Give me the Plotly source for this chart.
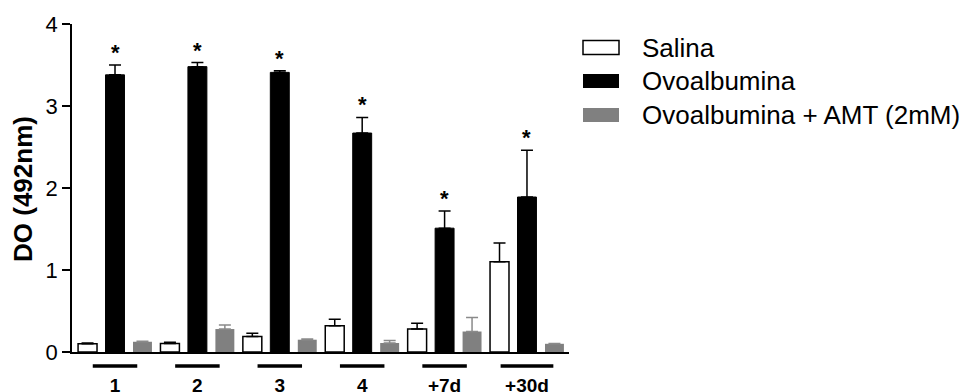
import plotly.graph_objects as go

categories = ["1", "2", "3", "4", "+7d", "+30d"]
salina = [0.10, 0.105, 0.19, 0.32, 0.28, 1.10]
salina_err = [0.11, 0.12, 0.23, 0.40, 0.35, 1.33]
ova = [3.38, 3.48, 3.41, 2.67, 1.51, 1.89]
ova_err = [3.50, 3.53, 3.43, 2.86, 1.72, 2.46]
amt = [0.125, 0.28, 0.15, 0.11, 0.25, 0.10]
amt_err = [0.13, 0.33, 0.16, 0.14, 0.42, 0.105]
series_names = ["Salina", "Ovoalbumina", "Ovoalbumina + AMT (2mM)"]

FONT = "Arial, Liberation Sans, sans-serif"
W, H = 965, 392
L, R, T, B = 72, 396, 24, 40
PW, PH = W - L - R, H - T - B

x = list(range(len(categories)))

def upper(vals, tops):
    return [t - v for v, t in zip(vals, tops)]

fig = go.Figure()
fig.add_trace(go.Bar(
    x=x, y=salina, name=series_names[0],
    marker=dict(color="white", line=dict(color="black", width=1.5)),
    error_y=dict(type="data", symmetric=False, array=upper(salina, salina_err),
                 arrayminus=[0] * len(x), color="black", thickness=1.5, width=6),
))
fig.add_trace(go.Bar(
    x=x, y=ova, name=series_names[1],
    marker=dict(color="black", line=dict(color="black", width=1)),
    error_y=dict(type="data", symmetric=False, array=upper(ova, ova_err),
                 arrayminus=[0] * len(x), color="black", thickness=1.5, width=6),
))
fig.add_trace(go.Bar(
    x=x, y=amt, name=series_names[2],
    marker=dict(color="#808080", line=dict(color="#808080", width=0)),
    error_y=dict(type="data", symmetric=False, array=upper(amt, amt_err),
                 arrayminus=[0] * len(x), color="#8a8a8a", thickness=1.5, width=6),
))

annotations = []
# significance asterisks above Ovoalbumina error bars
for i, top in enumerate(ova_err):
    annotations.append(dict(
        x=i, y=top, xref="x", yref="y", text="<b>*</b>", showarrow=False,
        yanchor="bottom", yshift=-2, font=dict(family=FONT, size=22, color="black"),
    ))

shapes = []
# underline bars beneath each group
for i, c in enumerate(categories):
    hw = 0.32 if c == "+30d" else 0.27
    shapes.append(dict(
        type="line", xref="x", yref="paper", x0=i - hw, x1=i + hw,
        y0=-14 / PH, y1=-14 / PH, line=dict(color="black", width=3.5),
    ))

# custom legend
def px_x(p):
    return (p - L) / PW

def px_y(p):
    return (H - B - p) / PH

legend_rows = [47.5, 81, 115]
legend_fill = ["white", "black", "#808080"]
legend_line = ["black", "black", "#808080"]
for name, yc, fc, lc in zip(series_names, legend_rows, legend_fill, legend_line):
    shapes.append(dict(
        type="rect", xref="paper", yref="paper",
        x0=px_x(583), x1=px_x(619), y0=px_y(yc + 7), y1=px_y(yc - 7),
        fillcolor=fc, line=dict(color=lc, width=1.5 if fc == "white" else 0),
    ))
    annotations.append(dict(
        x=px_x(640), y=px_y(yc), xref="paper", yref="paper", text=name,
        showarrow=False, xanchor="left", yanchor="middle",
        font=dict(family=FONT, size=26, color="black"),
    ))

# y axis title
annotations.append(dict(
    x=0, y=0.497, xref="paper", yref="paper", xshift=-49, text="<b>DO (492nm)</b>",
    textangle=-90, showarrow=False, xanchor="center", yanchor="middle",
    font=dict(family=FONT, size=26, color="black"),
))

fig.update_layout(
    width=W, height=H, margin=dict(l=L, r=R, t=T, b=B, autoexpand=False),
    paper_bgcolor="white", plot_bgcolor="white",
    barmode="group", bargap=0.0, bargroupgap=0.31,
    showlegend=False,
    annotations=annotations, shapes=shapes,
    font=dict(family=FONT, color="black"),
)
fig.update_xaxes(
    automargin=False,
    range=[-0.522, 5.51], tickvals=x, ticktext=["<b>%s</b>" % c for c in categories],
    showline=True, linecolor="black", linewidth=1.5, showgrid=False, zeroline=False,
    ticks="outside", ticklen=15, tickcolor="rgba(0,0,0,0)",
    tickfont=dict(family=FONT, size=19, color="black"),
)
fig.update_yaxes(
    automargin=False,
    range=[0, 4], tickvals=[0, 1, 2, 3, 4],
    showline=True, linecolor="black", linewidth=1.5, showgrid=False, zeroline=False,
    ticks="outside", ticklen=8, tickwidth=1.5, tickcolor="black",
    tickfont=dict(family=FONT, size=22, color="black"),
)

fig.write_html("out.html")
